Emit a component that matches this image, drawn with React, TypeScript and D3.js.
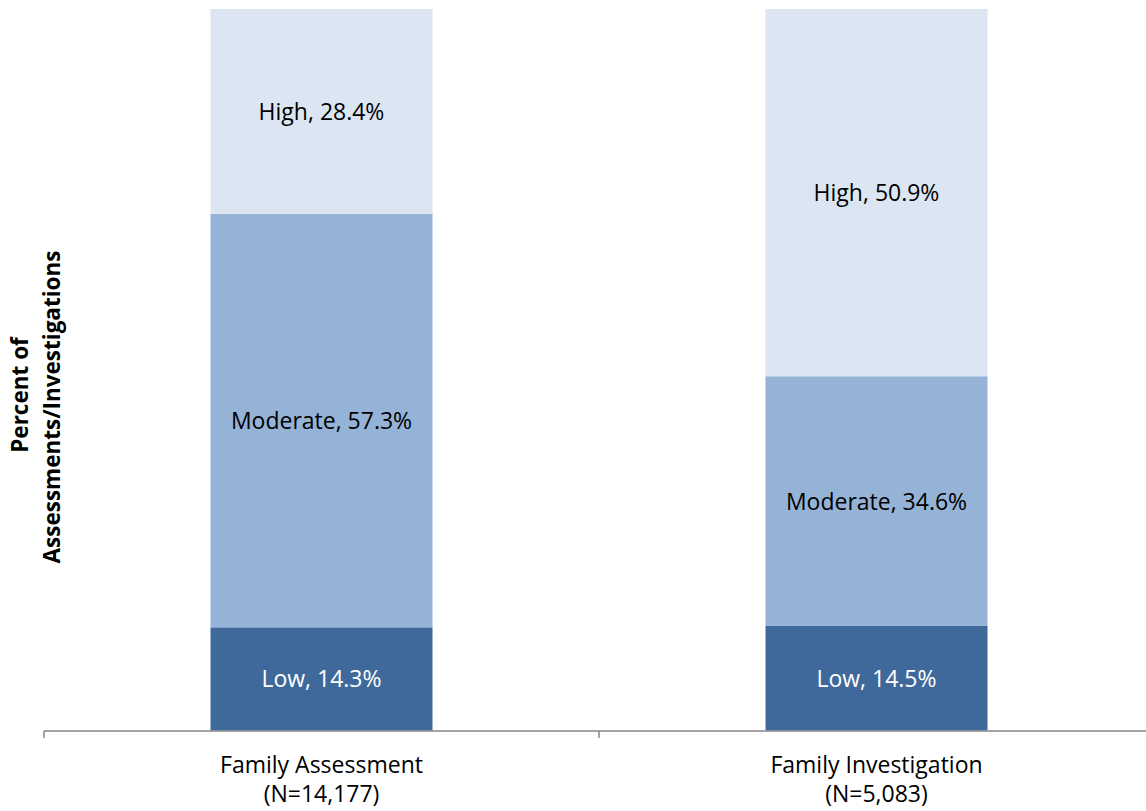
import React from "react";
import * as d3 from "d3";

const categories = ["Family Assessment", "Family Investigation"];
const categorySub = ["(N=14,177)", "(N=5,083)"];
const levels = ["Low", "Moderate", "High"];
const lowValues = [14.3, 14.5];
const moderateValues = [57.3, 34.6];
const highValues = [28.4, 50.9];
const levelColors = ["#3f699b", "#95b3d7", "#dce6f2"];
const labelColors = ["#ffffff", "#000000", "#000000"];
const yTitle = ["Percent of", "Assessments/Investigations"];

const W = 1146;
const H = 811;
const FONT = "'Open Sans', Lato, sans-serif";

export default function App() {
  const x = d3.scaleBand<string>().domain(categories).range([44, 1154]).paddingInner(0.6).paddingOuter(0.3);
  const y = d3.scaleLinear().domain([0, 100]).range([730.5, 9]);
  const rows = categories.map((c, i) => ({ cat: c, Low: lowValues[i], Moderate: moderateValues[i], High: highValues[i] }));
  const stack = d3.stack<any>().keys(levels)(rows);
  const step = x.step();
  const ticks = [44, 44 + step, 44 + 2 * step];

  return (
    <svg width={W} height={H} style={{ position: "absolute", left: 0, top: 0, fontFamily: FONT }}>
      <rect width={W} height={H} fill="#ffffff" />
      {stack.map((layer, li) =>
        layer.map((d, i) => {
          const x0 = x(categories[i])!;
          const y0 = y(d[1]);
          const y1 = y(d[0]);
          const v = (d.data as any)[levels[li]];
          return (
            <g key={`${li}-${i}`}>
              <rect x={x0} y={y0} width={x.bandwidth()} height={y1 - y0} fill={levelColors[li]} />
              <text
                x={x0 + x.bandwidth() / 2}
                y={(y0 + y1) / 2 + 8.5}
                textAnchor="middle"
                fontSize={23}
                fill={labelColors[li]}
              >
                {`${levels[li]}, ${v.toFixed(1)}%`}
              </text>
            </g>
          );
        })
      )}
      <line x1={44} x2={W} y1={731} y2={731} stroke="#868686" strokeWidth={1.5} />
      {ticks.map((t, i) => (
        <line key={i} x1={t} x2={t} y1={731} y2={738} stroke="#868686" strokeWidth={1.5} />
      ))}
      {categories.map((c, i) => (
        <g key={c}>
          <text x={x(c)! + x.bandwidth() / 2} y={773} textAnchor="middle" fontSize={23} fill="#000">
            {c}
          </text>
          <text x={x(c)! + x.bandwidth() / 2} y={802} textAnchor="middle" fontSize={23} fill="#000">
            {categorySub[i]}
          </text>
        </g>
      ))}
      <text
        transform="translate(28,395) rotate(-90)"
        textAnchor="middle"
        fontSize={22.5}
        fontWeight="bold"
        fill="#000"
      >
        {yTitle[0]}
      </text>
      <text
        transform="translate(60,407) rotate(-90)"
        textAnchor="middle"
        fontSize={22.5}
        fontWeight="bold"
        fill="#000"
      >
        {yTitle[1]}
      </text>
    </svg>
  );
}
